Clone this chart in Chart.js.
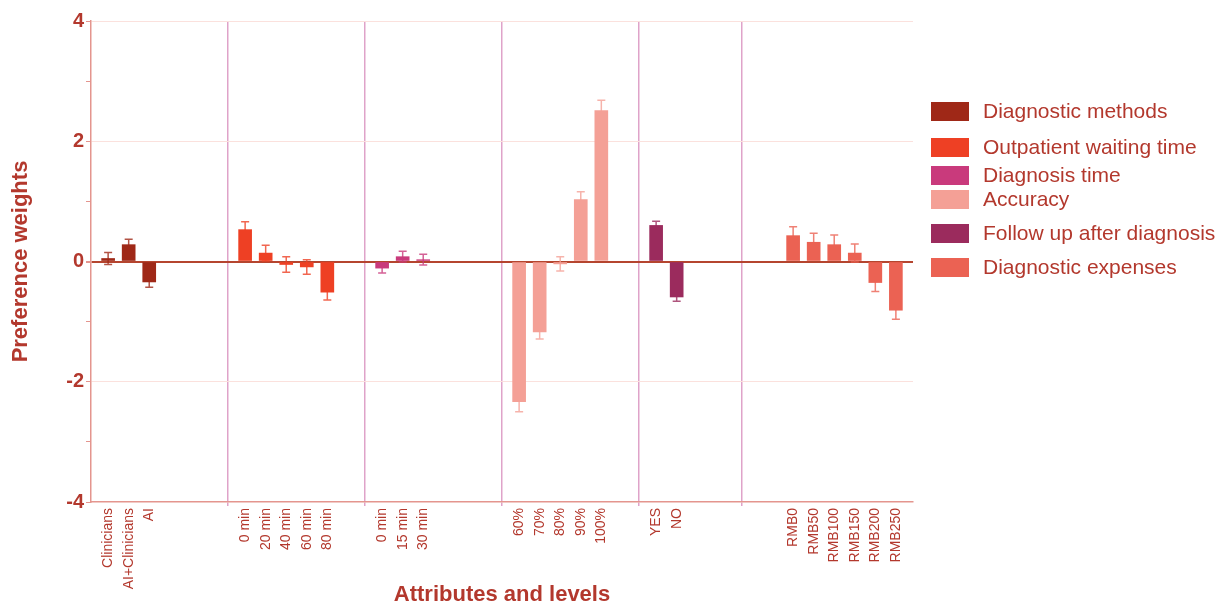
<!DOCTYPE html>
<html>
<head>
<meta charset="utf-8">
<script src="https://cdn.jsdelivr.net/npm/chart.js@4.4.1/dist/chart.umd.min.js"></script>
<style>
html,body{margin:0;padding:0;background:#fff;}
#cadre{position:relative;width:1224px;height:608px;}
#graphique{position:absolute;left:0;top:0;}
.leg{position:absolute;left:931px;height:20px;font:21px "Liberation Sans",Arial,sans-serif;color:#b3382d;white-space:nowrap;}
.leg span{position:absolute;left:0;top:0;width:38px;height:19px;}
.leg b{position:absolute;left:52px;top:-3px;line-height:24px;font-weight:normal;}
</style>
</head>
<body>
<div id="cadre">
  <canvas id="graphique" width="1224" height="608"></canvas>
</div>
<script>
const groupes = ["Diagnostic methods", "Outpatient waiting time", "Diagnosis time", "Accuracy", "Follow up after diagnosis", "Diagnostic expenses"];
const couleurs = ["#9f2817", "#ee4024", "#c93a7c", "#f4a096", "#9b2b5d", "#eb6253"];
const niveaux = [
  ["Clinicians", "AI+Clinicians", "AI"],
  ["0 min", "20 min", "40 min", "60 min", "80 min"],
  ["0 min", "15 min", "30 min"],
  ["60%", "70%", "80%", "90%", "100%"],
  ["YES", "NO"],
  ["RMB0", "RMB50", "RMB100", "RMB150", "RMB200", "RMB250"]
];
const poids = [
  [0.05, 0.28, -0.34],
  [0.53, 0.14, -0.05, -0.09, -0.51],
  [-0.11, 0.08, 0.03],
  [-2.33, -1.17, -0.04, 1.03, 2.51],
  [0.60, -0.59],
  [0.43, 0.32, 0.28, 0.14, -0.35, -0.81]
];
const erreurs = [
  [0.10, 0.09, 0.09],
  [0.13, 0.13, 0.13, 0.12, 0.13],
  [0.08, 0.09, 0.09],
  [0.17, 0.12, 0.12, 0.13, 0.17],
  [0.07, 0.07],
  [0.15, 0.15, 0.16, 0.15, 0.15, 0.15]
];

// mise en page de l'axe x : 120 cases, un groupe tous les 20, un niveau toutes les 3
const NB_CASES = 120, DEBUT = 2, PAS_GROUPE = 20, PAS_NIVEAU = 3;
const separateurs = [20, 40, 60, 80, 95];
const lignesLegende = [112, 148, 176, 200, 234, 268];
const ROUGE = "#b3382d";

const etiquettes = new Array(NB_CASES).fill("");
const jeux = groupes.map((nom, g) => {
  const data = new Array(NB_CASES).fill(null);
  const err = new Array(NB_CASES).fill(null);
  niveaux[g].forEach((niv, j) => {
    const i = DEBUT + g * PAS_GROUPE + j * PAS_NIVEAU;
    etiquettes[i] = niv;
    data[i] = poids[g][j];
    err[i] = erreurs[g][j];
  });
  return { label: nom, data, erreurs: err, backgroundColor: couleurs[g], barThickness: 13, grouped: false };
});

const barresErreur = {
  id: "barresErreur",
  beforeDatasetsDraw(chart){
    const ctx = chart.ctx;
    const y = chart.scales.y;
    chart.data.datasets.forEach((ds, d) => {
      const meta = chart.getDatasetMeta(d);
      meta.data.forEach((el, i) => {
        if (ds.data[i] === null) return;
        const haut = y.getPixelForValue(ds.data[i] + ds.erreurs[i]);
        const bas = y.getPixelForValue(ds.data[i] - ds.erreurs[i]);
        ctx.save();
        ctx.strokeStyle = ds.backgroundColor;
        ctx.globalAlpha = 0.8;
        ctx.lineWidth = 1.5;
        ctx.beginPath();
        ctx.moveTo(el.x, haut); ctx.lineTo(el.x, bas);
        ctx.moveTo(el.x - 4, haut); ctx.lineTo(el.x + 4, haut);
        ctx.moveTo(el.x - 4, bas); ctx.lineTo(el.x + 4, bas);
        ctx.stroke();
        ctx.restore();
      });
    });
  }
};

new Chart(document.getElementById("graphique"), {
  type: "bar",
  data: { labels: etiquettes, datasets: jeux },
  plugins: [barresErreur],
  options: {
    responsive: false,
    animation: false,
    layout: { padding: { left: 6, top: 21, right: 311, bottom: 0 } },
    plugins: { legend: { display: false }, tooltip: { enabled: false } },
    scales: {
      x: {
        offset: true,
        afterFit: s => { s.height = 106; },
        border: { color: "#e4958e", width: 1.5 },
        grid: {
          offset: true,
          color: c => separateurs.includes(c.index) ? "#dfa3c9" : "rgba(0,0,0,0)",
          lineWidth: 1.5,
          tickLength: 4
        },
        ticks: {
          autoSkip: false, minRotation: 90, maxRotation: 90, padding: 2,
          color: ROUGE, font: { family: "'Liberation Sans', Arial", size: 14 }
        },
        title: {
          display: true, text: "Attributes and levels", color: ROUGE,
          padding: { top: 0, bottom: 0 },
          font: { family: "'Liberation Sans', Arial", size: 22, weight: "bold" }
        }
      },
      y: {
        min: -4, max: 4, z: 1,
        afterFit: s => { s.width = 85; },
        border: { color: "#e4958e", width: 1.5 },
        grid: {
          color: c => c.tick.value === 0 ? "#b5452f" : (c.tick.value % 2 === 0 && c.tick.value > -4 ? "#fbe1dd" : "rgba(0,0,0,0)"),
          lineWidth: c => c.tick.value === 0 ? 2 : 1,
          tickColor: "#e4958e",
          tickLength: 5
        },
        ticks: {
          stepSize: 1, padding: 2, color: ROUGE,
          font: { family: "'Liberation Sans', Arial", size: 20, weight: "bold" },
          callback: v => (v % 2 === 0 ? v : "")
        },
        title: {
          display: true, text: "Preference weights", color: ROUGE,
          padding: { top: 2, bottom: 0 },
          font: { family: "'Liberation Sans', Arial", size: 22, weight: "bold" }
        }
      }
    }
  }
});

const cadre = document.getElementById("cadre");
groupes.forEach((nom, g) => {
  const div = document.createElement("div");
  div.className = "leg";
  div.style.top = (lignesLegende[g] - 10) + "px";
  div.innerHTML = `<span style="background:${couleurs[g]}"></span><b>${nom}</b>`;
  cadre.appendChild(div);
});
</script>
</body>
</html>
